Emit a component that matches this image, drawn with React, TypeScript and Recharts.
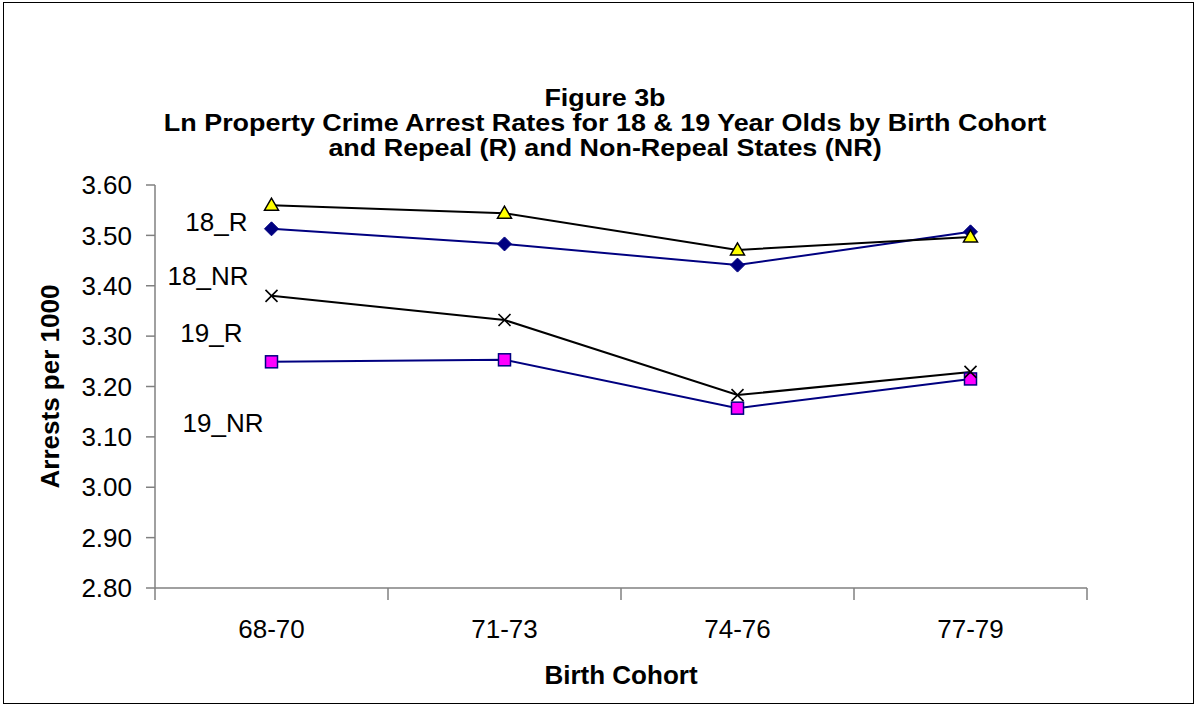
import React from "react";
import {
  LineChart,
  Line,
  XAxis,
  YAxis,
  Label,
  ReferenceDot,
} from "recharts";

const cohorts = ["68-70", "71-73", "74-76", "77-79"];
const r18 = [3.56, 3.544, 3.471, 3.497];
const nr18 = [3.513, 3.483, 3.441, 3.507];
const r19 = [3.38, 3.332, 3.183, 3.229];
const nr19 = [3.249, 3.253, 3.157, 3.215];
const yTicks = [2.8, 2.9, 3.0, 3.1, 3.2, 3.3, 3.4, 3.5, 3.6];

// series tags drawn at the left, next to the first cohort
const tagNames = ["18_R", "18_NR", "19_R", "19_NR"];
const tagValues = [3.527, 3.419, 3.306, 3.128];
const tagGap = [24, 23, 29, 8];

const FONT = "'Liberation Sans', Arial, sans-serif";
const AXIS = "#808080";
const NAVY = "#000080";

const data = cohorts.map((c, i) => ({
  x: i + 0.5,
  cohort: c,
  r18: r18[i],
  nr18: nr18[i],
  r19: r19[i],
  nr19: nr19[i],
}));

const xTicks = [0, 0.5, 1, 1.5, 2, 2.5, 3, 3.5, 4];

function Triangle({ cx, cy }: any) {
  return (
    <polygon
      points={`${cx},${cy - 7} ${cx - 7},${cy + 5} ${cx + 7},${cy + 5}`}
      fill="#FFFF00"
      stroke="#000"
      strokeWidth={1.5}
    />
  );
}

function Diamond({ cx, cy }: any) {
  return (
    <polygon
      points={`${cx},${cy - 7} ${cx + 7},${cy} ${cx},${cy + 7} ${cx - 7},${cy}`}
      fill={NAVY}
      stroke={NAVY}
      strokeWidth={1}
    />
  );
}

function Cross({ cx, cy }: any) {
  return (
    <g stroke="#000" strokeWidth={1.6}>
      <line x1={cx - 6} y1={cy - 6} x2={cx + 6} y2={cy + 6} />
      <line x1={cx - 6} y1={cy + 6} x2={cx + 6} y2={cy - 6} />
    </g>
  );
}

function Square({ cx, cy }: any) {
  return (
    <rect
      x={cx - 6}
      y={cy - 6}
      width={12}
      height={12}
      fill="#FF00FF"
      stroke={NAVY}
      strokeWidth={1.5}
    />
  );
}

function CohortTick({ x, y, payload }: any) {
  const v = payload.value;
  if (Number.isInteger(v)) {
    return <line x1={x} y1={y} x2={x} y2={y + 12} stroke={AXIS} strokeWidth={1.5} />;
  }
  return (
    <text
      x={x}
      y={y + 41}
      textAnchor="middle"
      dominantBaseline="central"
      fontFamily={FONT}
      fontSize={26}
      fill="#000"
    >
      {cohorts[Math.floor(v)]}
    </text>
  );
}

export default function App() {
  return (
    <div
      style={{
        position: "absolute",
        top: 0,
        left: 0,
        width: 1197,
        height: 706,
        background: "#fff",
        fontFamily: FONT,
      }}
    >
      <div
        style={{
          position: "absolute",
          left: 3,
          top: 2,
          width: 1191,
          height: 702,
          boxSizing: "border-box",
          border: "1px solid #000",
        }}
      />
      <div
        style={{
          position: "absolute",
          left: 0,
          width: 1210,
          top: 86,
          textAlign: "center",
          fontWeight: "bold",
          fontSize: 23,
          lineHeight: "25px",
          color: "#000",
          transform: "scaleX(1.17)",
          transformOrigin: "605px 0",
        }}
      >
        <div>Figure 3b</div>
        <div>Ln Property Crime Arrest Rates for 18 &amp; 19 Year Olds by Birth Cohort</div>
        <div>and Repeal (R) and Non-Repeal States (NR)</div>
      </div>
      <div style={{ position: "absolute", left: 0, top: 0 }}>
        <LineChart
          width={1197}
          height={706}
          data={data}
          margin={{ top: 185, right: 110, bottom: 0, left: 0 }}
        >
          <XAxis
            dataKey="x"
            type="number"
            domain={[0, 4]}
            ticks={xTicks}
            interval={0}
            height={118}
            tickLine={false}
            tickSize={0}
            tickMargin={0}
            tick={<CohortTick />}
            axisLine={{ stroke: AXIS, strokeWidth: 1.5 }}
          >
            <Label
              content={({ viewBox }: any) => (
                <text
                  x={viewBox.x + viewBox.width / 2}
                  y={viewBox.y + 87}
                  textAnchor="middle"
                  dominantBaseline="central"
                  fontFamily={FONT}
                  fontWeight="bold"
                  fontSize={26}
                  fill="#000"
                >
                  Birth Cohort
                </text>
              )}
            />
          </XAxis>
          <YAxis
            type="number"
            domain={[2.8, 3.6]}
            ticks={yTicks}
            interval={0}
            width={155}
            tickSize={9}
            tickMargin={14}
            tickFormatter={(v: number) => v.toFixed(2)}
            tick={{ fontFamily: FONT, fontSize: 26, fill: "#000" }}
            tickLine={{ stroke: AXIS, strokeWidth: 1.5 }}
            axisLine={{ stroke: AXIS, strokeWidth: 1.5 }}
          >
            <Label
              content={({ viewBox }: any) => {
                const cx = viewBox.x + 50;
                const cy = viewBox.y + viewBox.height / 2;
                return (
                  <text
                    x={cx}
                    y={cy}
                    transform={`rotate(-90, ${cx}, ${cy})`}
                    textAnchor="middle"
                    dominantBaseline="central"
                    fontFamily={FONT}
                    fontWeight="bold"
                    fontSize={26}
                    fill="#000"
                  >
                    Arrests per 1000
                  </text>
                );
              }}
            />
          </YAxis>
          <Line
            dataKey="nr19"
            stroke={NAVY}
            strokeWidth={2}
            dot={<Square />}
            isAnimationActive={false}
          />
          <Line
            dataKey="r19"
            stroke="#000"
            strokeWidth={2}
            dot={<Cross />}
            isAnimationActive={false}
          />
          <Line
            dataKey="nr18"
            stroke={NAVY}
            strokeWidth={2}
            dot={<Diamond />}
            isAnimationActive={false}
          />
          <Line
            dataKey="r18"
            stroke="#000"
            strokeWidth={2}
            dot={<Triangle />}
            isAnimationActive={false}
          />
          {tagNames.map((name, i) => (
            <ReferenceDot
              key={name}
              x={0.5}
              y={tagValues[i]}
              r={1}
              fill="none"
              stroke="none"
              label={({ viewBox }: any) => (
                <text
                  x={viewBox.x + viewBox.width / 2 - tagGap[i]}
                  y={viewBox.y + viewBox.height / 2}
                  textAnchor="end"
                  dominantBaseline="central"
                  fontFamily={FONT}
                  fontSize={26}
                  fill="#000"
                >
                  {name}
                </text>
              )}
            />
          ))}
        </LineChart>
      </div>
    </div>
  );
}
